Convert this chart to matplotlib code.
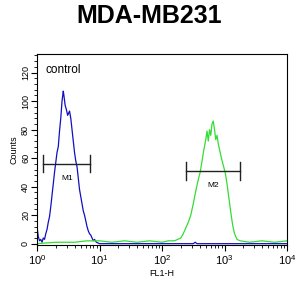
import matplotlib.pyplot as plt
from matplotlib.ticker import LogLocator, MultipleLocator

plt.rcParams['font.family'] = ['Liberation Sans', 'DejaVu Sans']

# control (blue) histogram: log10(FL1-H) vs counts
blue_log = [0.00, 0.02, 0.04, 0.06, 0.08, 0.10, 0.12, 0.14, 0.16, 0.18,
            0.20, 0.22, 0.24, 0.26, 0.28, 0.30, 0.32, 0.34, 0.36, 0.38,
            0.40, 0.42, 0.43, 0.45, 0.47, 0.49, 0.51, 0.52, 0.54, 0.56,
            0.58, 0.60, 0.62, 0.64, 0.66, 0.68, 0.70, 0.72, 0.74, 0.76,
            0.78, 0.80, 0.82, 0.84, 0.86, 0.88, 0.90, 0.92, 0.95, 1.00,
            1.5, 2.0, 2.5, 2.53, 2.56, 3.0, 4.0]
blue_cnt = [12, 5, 2, 3, 1, 4, 3, 7, 10, 15,
            19, 26, 34, 42, 50, 57, 64, 68, 79, 88,
            100, 107, 104, 97, 94, 90, 92, 93, 88, 80,
            72, 64, 58, 54, 46, 38, 33, 28, 23, 20,
            16, 12, 9, 7, 6, 4, 2, 3, 1, 0,
            0, 0, 0, 1, 0, 0, 0]

# sample (green) histogram
green_log = [0.00, 0.3, 0.6, 0.8, 1.0, 1.2, 1.4, 1.6, 1.8, 2.0,
             2.1, 2.2, 2.25, 2.30, 2.34, 2.38, 2.42, 2.46, 2.50, 2.54,
             2.58, 2.61, 2.64, 2.67, 2.70, 2.72, 2.74, 2.76, 2.78, 2.80,
             2.82, 2.84, 2.86, 2.88, 2.90, 2.92, 2.95, 2.98, 3.01, 3.04,
             3.07, 3.10, 3.13, 3.16, 3.20, 3.25, 3.4, 3.6, 3.8, 4.0]
green_cnt = [0, 1, 1, 2, 2, 1, 2, 1, 2, 1,
             2, 2, 3, 4, 7, 11, 15, 20, 28, 37,
             45, 50, 58, 66, 73, 79, 72, 80, 76, 84,
             86, 80, 73, 76, 70, 66, 60, 55, 50, 42,
             32, 22, 13, 7, 3, 2, 1, 2, 1, 2]

# markers: (label, left, right, height)
markers = [("M1", 1.26, 7.1, 56), ("M2", 240, 1780, 51)]

fig = plt.figure(figsize=(3.06, 2.86), dpi=100)
ax = fig.add_axes([0.121, 0.143, 0.817, 0.668])

ax.plot([10 ** v for v in blue_log], blue_cnt, color='#1010c0', lw=0.9)
ax.plot([10 ** v for v in green_log], green_cnt, color='#33dd33', lw=0.9)

for name, lo, hi, h in markers:
    ax.plot([lo, hi], [h, h], color='#222222', lw=1)
    ax.plot([lo, lo], [h - 6, h + 6], color='#222222', lw=1)
    ax.plot([hi, hi], [h - 6, h + 6], color='#222222', lw=1)
    ax.text((lo * hi) ** 0.5, h - 8, name, ha='center', va='top', fontsize=6)

ax.text(1.35, 122, "control", fontsize=8.5, va='center')

ax.set_xscale('log')
ax.set_xlim(1, 1e4)
ax.set_ylim(-1, 133)
ax.set_yticks([0, 20, 40, 60, 80, 100, 120])
ax.yaxis.set_minor_locator(MultipleLocator(4))
ax.xaxis.set_minor_locator(LogLocator(subs=range(2, 10)))
ax.tick_params(axis='both', which='major', direction='out', length=4, width=0.8)
ax.tick_params(axis='both', which='minor', direction='out', length=2, width=0.6)
ax.tick_params(axis='x', labelsize=8, pad=2)
ax.tick_params(axis='y', labelsize=6.5, pad=1)
for lab in ax.get_yticklabels():
    lab.set_rotation(90)
    lab.set_va('center')

ax.set_xlabel("FL1-H", fontsize=6.5, labelpad=1)
ax.set_ylabel("Counts", fontsize=6.5, labelpad=2)

fig.text(0.487, 0.943, "MDA-MB231", ha='center', va='center',
         fontsize=18, fontweight='bold')

fig.savefig("out.png", dpi=100)
